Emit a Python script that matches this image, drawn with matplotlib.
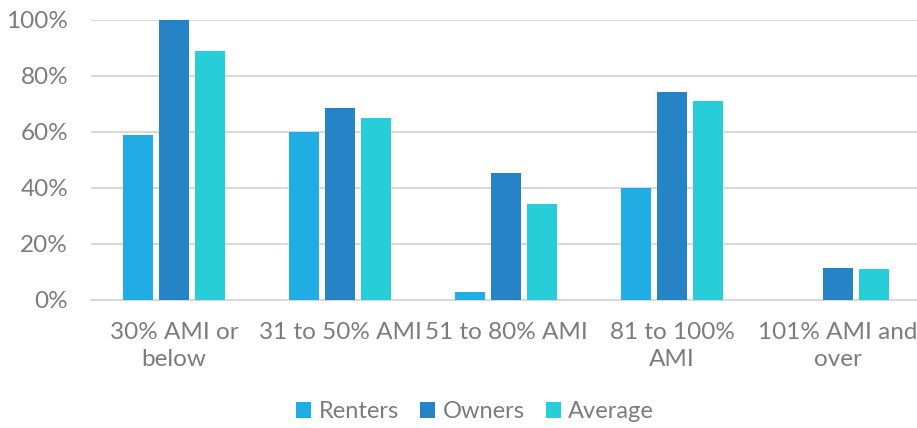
import matplotlib.pyplot as plt
import numpy as np

categories = ['30% AMI or\nbelow', '31 to 50% AMI', '51 to 80% AMI', '81 to 100%\nAMI', '101% AMI and\nover']
renters = [59, 60, 2.7, 40, 0]
owners = [100, 68.6, 45.2, 74.2, 11.4]
average = [89, 65.1, 34.2, 71.2, 11.1]

colors = ['#1FADE4', '#2683C6', '#27CED7']
plt.rcParams['font.family'] = ['Lato', 'DejaVu Sans']
text_color = '#7C7C7C'

fig = plt.figure(figsize=(9.17, 4.28), dpi=100)
ax = fig.add_axes([91 / 917, 1 - 300 / 428, 830 / 917, 280 / 428])

x = np.arange(len(categories))
w = 0.175
off = 0.217
ax.bar(x - off, renters, w, color=colors[0], label='Renters', zorder=3)
ax.bar(x, owners, w, color=colors[1], label='Owners', zorder=3)
ax.bar(x + off, average, w, color=colors[2], label='Average', zorder=3)

ax.set_xlim(-0.5, len(categories) - 0.5)
ax.set_ylim(0, 100)
ax.set_yticks(range(0, 101, 20))
ax.set_yticklabels([f'{v}%' for v in range(0, 101, 20)])
ax.set_xticks(x)
ax.set_xticklabels(categories, linespacing=1.35)
ax.yaxis.grid(True, color='#D9D9D9', linewidth=1.5, zorder=0)
for s in ['top', 'right', 'left']:
    ax.spines[s].set_visible(False)
ax.spines['bottom'].set_color('#D9D9D9')
ax.spines['bottom'].set_linewidth(1.5)
ax.tick_params(axis='both', length=0, labelsize=17.5, colors=text_color)
ax.tick_params(axis='y', pad=16.5)
ax.tick_params(axis='x', pad=16)

leg = fig.legend(loc='center', bbox_to_anchor=(475 / 917, 1 - 412 / 428), ncol=3, frameon=False,
                 fontsize=17, handlelength=0.65, handleheight=0.65, handletextpad=0.3, columnspacing=0.9)
for t in leg.get_texts():
    t.set_color(text_color)

fig.savefig('out.png', dpi=100)
